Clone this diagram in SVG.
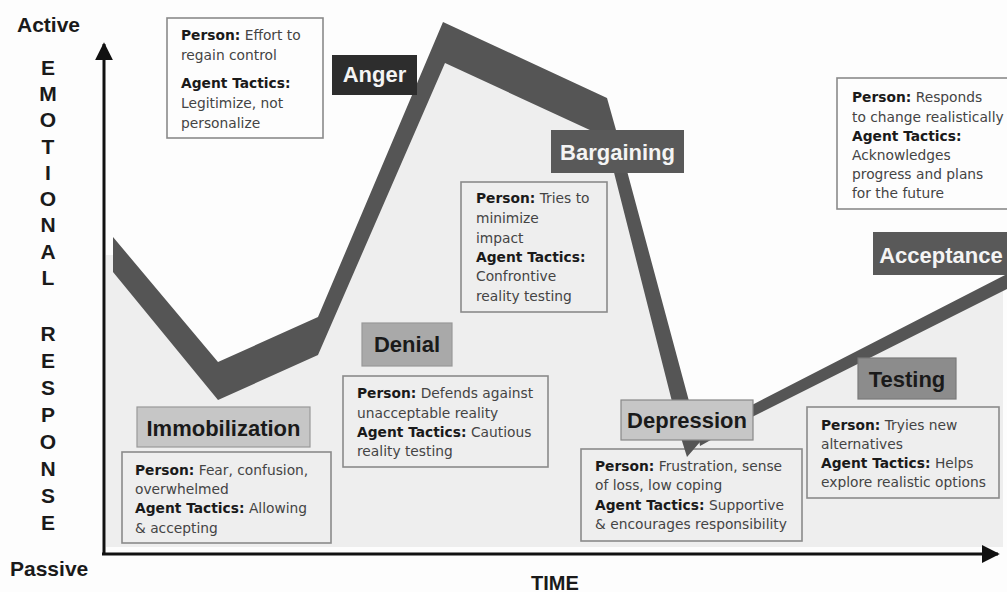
<svg xmlns="http://www.w3.org/2000/svg" width="1007" height="592" viewBox="0 0 1007 592">
<style>
.ax{font-family:"Liberation Sans",Arial,sans-serif;font-weight:bold;font-size:21px;fill:#1a1a1a}
.vl{font-family:"Liberation Sans",Arial,sans-serif;font-weight:bold;font-size:21px;fill:#1a1a1a;text-anchor:middle}
.box{fill:none;stroke:#8a8a8a;stroke-width:1.6}
.bt{font-family:"DejaVu Sans","Liberation Sans",sans-serif;font-size:13.8px;fill:#444}
.bt .b{font-weight:bold;fill:#1a1a1a}
.st{font-family:"Liberation Sans",Arial,sans-serif;font-weight:bold;font-size:22px;text-anchor:middle}
.band{fill:#555555}
</style>
<defs>
<marker id="ah" viewBox="0 0 10 10" refX="9" refY="5" markerWidth="6" markerHeight="6" orient="auto" markerUnits="strokeWidth"><path d="M0,0 L10,5 L0,10 z" fill="#111"/></marker>
</defs>
<rect x="0" y="0" width="1007" height="592" fill="#fdfdfd"/>
<polygon id="area" points="106,255 113,255 218,381 318,336 444,42 606,117 690,446 752,411 1003,282 1003,547 106,547" fill="#eeeeee"/>

<g id="connectors">
<line x1="104" y1="555" x2="104" y2="44" stroke="#111" stroke-width="3" marker-end="url(#ah)"/>
<line x1="102" y1="554" x2="998" y2="554" stroke="#111" stroke-width="3" marker-end="url(#ah)"/>
</g>

<g id="axis-labels">
<text class="ax" x="17" y="32">Active</text>
<text class="ax" x="10" y="576">Passive</text>
<text class="ax" x="531" y="590" style="font-size:20px">TIME</text>
<text class="vl" x="48" y="75">E</text>
<text class="vl" x="48" y="101">M</text>
<text class="vl" x="48" y="127">O</text>
<text class="vl" x="48" y="154">T</text>
<text class="vl" x="48" y="180">I</text>
<text class="vl" x="48" y="206">O</text>
<text class="vl" x="48" y="232">N</text>
<text class="vl" x="48" y="259">A</text>
<text class="vl" x="48" y="285">L</text>
<text class="vl" x="48" y="341">R</text>
<text class="vl" x="48" y="368">E</text>
<text class="vl" x="48" y="395">S</text>
<text class="vl" x="48" y="422">P</text>
<text class="vl" x="48" y="449">O</text>
<text class="vl" x="48" y="476">N</text>
<text class="vl" x="48" y="503">S</text>
<text class="vl" x="48" y="530">E</text>
</g>

<g id="box-anger">
<rect class="box" x="167" y="18" width="156" height="120"/>
<text class="bt" x="181" y="40"><tspan class="b">Person:</tspan> Effort to</text>
<text class="bt" x="181" y="60">regain control</text>
<text class="bt" x="181" y="88"><tspan class="b">Agent Tactics:</tspan></text>
<text class="bt" x="181" y="108">Legitimize, not</text>
<text class="bt" x="181" y="128">personalize</text>
</g>
<g id="box-bargaining">
<rect class="box" x="461" y="182" width="146" height="130"/>
<text class="bt" x="476" y="203"><tspan class="b">Person:</tspan> Tries to</text>
<text class="bt" x="476" y="223">minimize</text>
<text class="bt" x="476" y="243">impact</text>
<text class="bt" x="476" y="262"><tspan class="b">Agent Tactics:</tspan></text>
<text class="bt" x="476" y="281">Confrontive</text>
<text class="bt" x="476" y="301">reality testing</text>
</g>
<g id="box-acceptance">
<rect class="box" x="837" y="78" width="175" height="131"/>
<text class="bt" x="852" y="102"><tspan class="b">Person:</tspan> Responds</text>
<text class="bt" x="852" y="122">to change realistically</text>
<text class="bt" x="852" y="141"><tspan class="b">Agent Tactics:</tspan></text>
<text class="bt" x="852" y="160">Acknowledges</text>
<text class="bt" x="852" y="179">progress and plans</text>
<text class="bt" x="852" y="198">for the future</text>
</g>
<g id="box-immobilization">
<rect class="box" x="122" y="452" width="209" height="91"/>
<text class="bt" x="135" y="475"><tspan class="b">Person:</tspan> Fear, confusion,</text>
<text class="bt" x="135" y="494">overwhelmed</text>
<text class="bt" x="135" y="513"><tspan class="b">Agent Tactics:</tspan> Allowing</text>
<text class="bt" x="135" y="533">&amp; accepting</text>
</g>
<g id="box-denial">
<rect class="box" x="343" y="376" width="205" height="91"/>
<text class="bt" x="357" y="398"><tspan class="b">Person:</tspan> Defends against</text>
<text class="bt" x="357" y="418">unacceptable reality</text>
<text class="bt" x="357" y="437"><tspan class="b">Agent Tactics:</tspan> Cautious</text>
<text class="bt" x="357" y="456">reality testing</text>
</g>
<g id="box-depression">
<rect class="box" x="581" y="449" width="221" height="92"/>
<text class="bt" x="595" y="471"><tspan class="b">Person:</tspan> Frustration, sense</text>
<text class="bt" x="595" y="490">of loss, low coping</text>
<text class="bt" x="595" y="510"><tspan class="b">Agent Tactics:</tspan> Supportive</text>
<text class="bt" x="595" y="529">&amp; encourages responsibility</text>
</g>
<g id="box-testing">
<rect class="box" x="807" y="407" width="192" height="91"/>
<text class="bt" x="821" y="430"><tspan class="b">Person:</tspan> Tryies new</text>
<text class="bt" x="821" y="449">alternatives</text>
<text class="bt" x="821" y="468"><tspan class="b">Agent Tactics:</tspan> Helps</text>
<text class="bt" x="821" y="487">explore realistic options</text>
</g>

<g id="curve">
<polygon class="band" points="113,237 218,362 318,317 443,22 607,98 616,130 700,442 687,457 682,441 605,137 445,63 318,355 218,400 113,272"/>
<polygon class="band" points="698,432 752,405 1007,274 1007,289 752,417 700,446"/>
</g>

<g id="stage-immobilization">
<rect x="137" y="407" width="173" height="40" fill="#c6c6c6" stroke="#999" stroke-width="1.2"/>
<text class="st" x="223.5" y="436" fill="#1a1a1a">Immobilization</text>
</g>
<g id="stage-denial">
<rect x="362" y="323" width="90" height="43" fill="#a9a9a9" stroke="#999" stroke-width="1.2"/>
<text class="st" x="407" y="352" fill="#1a1a1a">Denial</text>
</g>
<g id="stage-anger">
<rect x="332" y="55" width="85" height="40" fill="#2d2d2d"/>
<text class="st" x="374.5" y="82" fill="#f4f4f4">Anger</text>
</g>
<g id="stage-bargaining">
<rect x="551" y="130" width="133" height="43" fill="#595959"/>
<text class="st" x="617.5" y="160" fill="#f4f4f4">Bargaining</text>
</g>
<g id="stage-depression">
<rect x="621" y="400" width="132" height="40" fill="#c6c6c6" stroke="#888" stroke-width="1.2"/>
<text class="st" x="687" y="428" fill="#1a1a1a">Depression</text>
</g>
<g id="stage-testing">
<rect x="858" y="358" width="98" height="41" fill="#8c8c8c" stroke="#7a7a7a" stroke-width="1.2"/>
<text class="st" x="907" y="387" fill="#1a1a1a">Testing</text>
</g>
<g id="stage-acceptance">
<rect x="873" y="232" width="136" height="43" fill="#595959"/>
<text class="st" x="941" y="263" fill="#f4f4f4">Acceptance</text>
</g>
</svg>
